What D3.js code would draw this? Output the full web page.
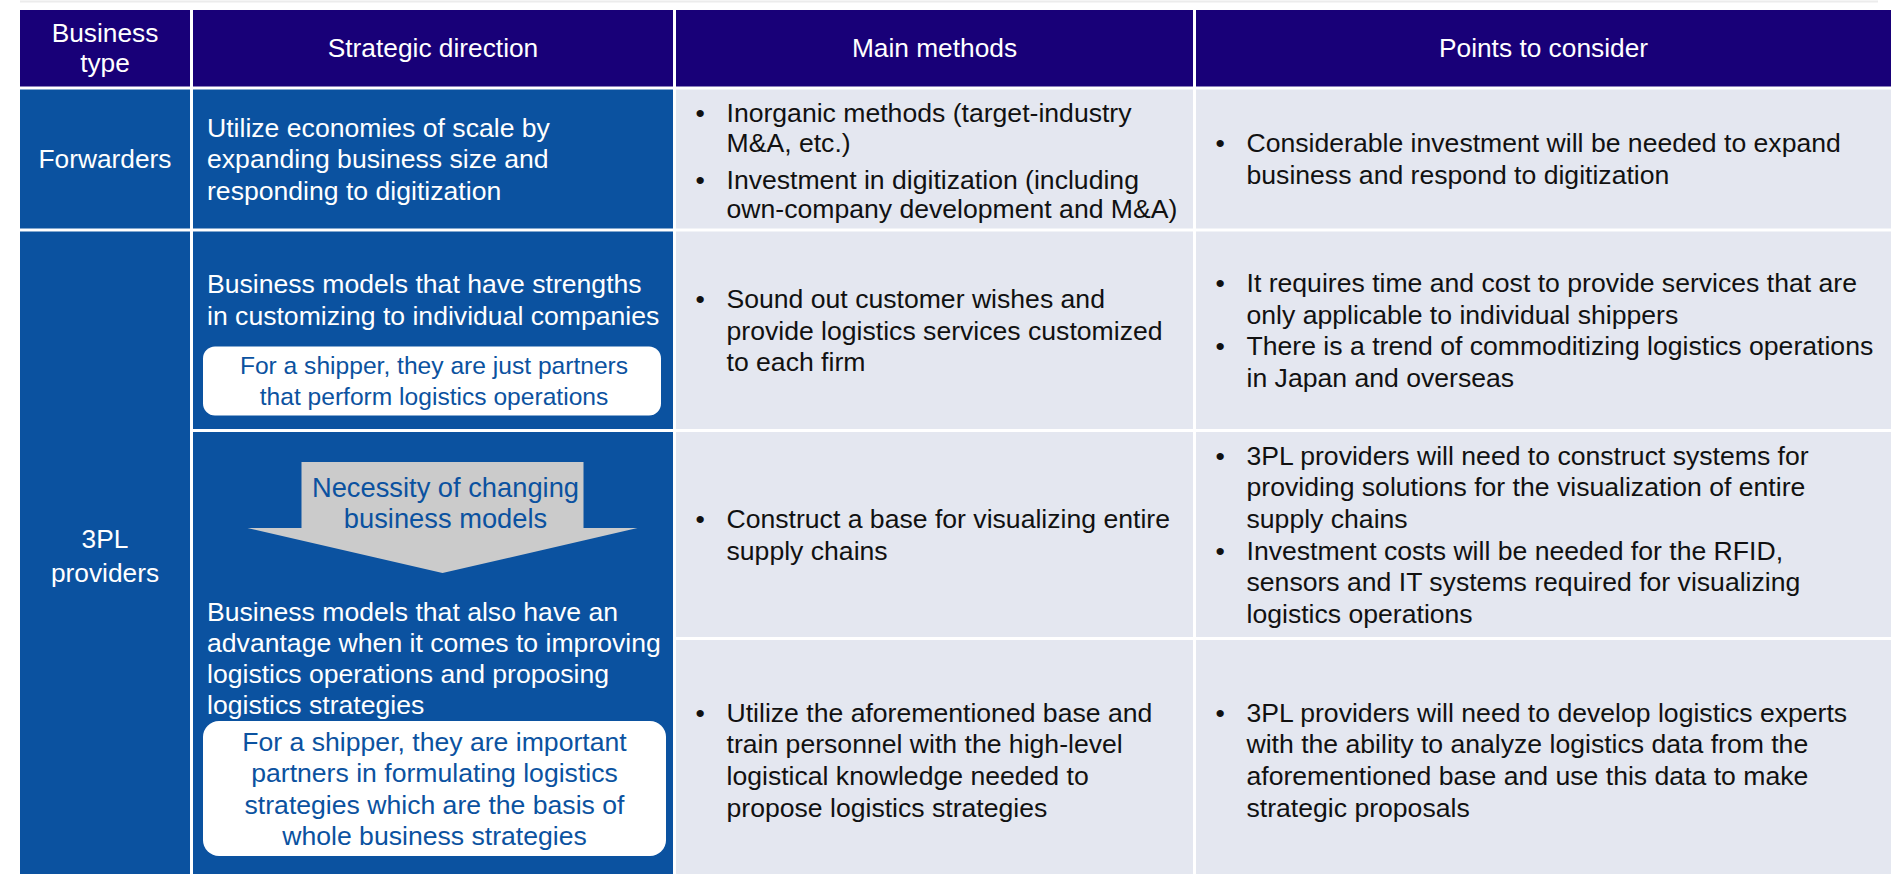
<!DOCTYPE html>
<html><head><meta charset="utf-8">
<script src="https://cdn.jsdelivr.net/npm/d3@7"></script>
<style>html,body{margin:0;padding:0;background:#fff;overflow:hidden}</style>
</head><body><svg id="chart" width="1895" height="874"></svg>
<script>
// ---------------- data ----------------
const headers = [["Business", "type"], ["Strategic direction"], ["Main methods"], ["Points to consider"]];
const businessTypes = [["Forwarders"], ["3PL", "providers"]];
const strategyForwarders = ["Utilize economies of scale by", "expanding business size and", "responding to digitization"];
const strategyCustomizing = ["Business models that have strengths", "in customizing to individual companies"];
const noteCustomizing = ["For a shipper, they are just partners", "that perform logistics operations"];
const arrowLabel = ["Necessity of changing", "business models"];
const strategyAdvantage = ["Business models that also have an", "advantage when it comes to improving", "logistics operations and proposing", "logistics strategies"];
const noteAdvantage = ["For a shipper, they are important", "partners in formulating logistics", "strategies which are the basis of", "whole business strategies"];
const mainMethods = [
  [["Inorganic methods (target-industry", "M&A, etc.)"], ["Investment in digitization (including", "own-company development and M&A)"]],
  [["Sound out customer wishes and", "provide logistics services customized", "to each firm"]],
  [["Construct a base for visualizing entire", "supply chains"]],
  [["Utilize the aforementioned base and", "train personnel with the high-level", "logistical knowledge needed to", "propose logistics strategies"]]
];
const pointsToConsider = [
  [["Considerable investment will be needed to expand", "business and respond to digitization"]],
  [["It requires time and cost to provide services that are", "only applicable to individual shippers"], ["There is a trend of commoditizing logistics operations", "in Japan and overseas"]],
  [["3PL providers will need to construct systems for", "providing solutions for the visualization of entire", "supply chains"], ["Investment costs will be needed for the RFID,", "sensors and IT systems required for visualizing", "logistics operations"]],
  [["3PL providers will need to develop logistics experts", "with the ability to analyze logistics data from the", "aforementioned base and use this data to make", "strategic proposals"]]
];

// ---------------- layout / style ----------------
const colEdges = [20, 191.5, 674.5, 1194.5, 1891];
const rowEdges = [10, 88, 230, 430.5, 638.5, 880];
const GAP = 3, FS = 26.6, LH = 31.7;
const FONT = "'Liberation Sans', Arial, sans-serif";
const C = { head: "#180078", blue: "#0B52A0", light: "#E4E7F0", arrow: "#CBCBCB", white: "#FFFFFF", ink: "#111111" };
// per-cell spacing tweaks (main methods, first row: tighter lines with paragraph gap)
const methodSpacing = [{ lh: 29.5, gap: 7.5, shift: 2 }, null, null, null];

const x = d3.scaleLinear().domain(d3.range(colEdges.length)).range(colEdges);
const y = d3.scaleLinear().domain(d3.range(rowEdges.length)).range(rowEdges);
const nC = colEdges.length - 1, nR = rowEdges.length - 1;

const svg = d3.select("#chart").style("font-family", FONT);
svg.append("rect").attr("width", 1895).attr("height", 874).attr("fill", "#fff");
svg.append("line").attr("x1", 20).attr("x2", 1878).attr("y1", 1.5).attr("y2", 1.5)
  .attr("stroke", "#ececec").attr("stroke-width", 2);

function box(c0, c1, r0, r1) {
  const x0 = x(c0) + (c0 > 0 ? GAP / 2 : 0), x1 = x(c1) - (c1 < nC ? GAP / 2 : 0);
  const y0 = y(r0) + (r0 > 0 ? GAP / 2 : 0), y1 = y(r1) - (r1 < nR ? GAP / 2 : 0);
  return { x0, x1, y0, y1, cx: (x0 + x1) / 2, cy: (y0 + y1) / 2 };
}
function cell(b, fill) {
  svg.append("rect").attr("x", b.x0).attr("y", b.y0).attr("width", b.x1 - b.x0).attr("height", b.y1 - b.y0).attr("fill", fill);
}
function lines(arr, xPos, cy, anchor, color, lh = LH, fs = FS) {
  const g = svg.append("g").attr("fill", color).attr("font-size", fs).attr("text-anchor", anchor);
  g.selectAll("text").data(arr).join("text")
    .attr("x", xPos)
    .attr("y", (d, i) => cy + (i - (arr.length - 1) / 2) * lh)
    .attr("dy", "0.35em")
    .text(d => d);
}
function bullets(paras, b, color, sp) {
  const lh = sp ? sp.lh : LH, gap = sp ? sp.gap : 0, shift = sp ? sp.shift : 0;
  const flat = [];
  let off = 0;
  paras.forEach((p, pi) => {
    if (pi > 0) off += gap;
    p.forEach((l, i) => { flat.push({ l, bullet: i === 0, pos: off }); off += lh; });
  });
  const total = off - lh;
  flat.forEach(d => d.yy = b.cy - total / 2 + d.pos + shift);
  const g = svg.append("g").attr("fill", color).attr("font-size", FS);
  g.selectAll("text.t").data(flat).join("text").attr("class", "t")
    .attr("x", b.x0 + 50.5).attr("y", d => d.yy).attr("dy", "0.35em").text(d => d.l);
  g.selectAll("text.b").data(flat.filter(d => d.bullet)).join("text").attr("class", "b")
    .attr("x", b.x0 + 19.5).attr("y", d => d.yy).attr("dy", "0.35em").text("•");
}

// header
headers.forEach((h, i) => {
  const b = box(i, i + 1, 0, 1);
  cell(b, C.head);
  lines(h, b.cx, b.cy, "middle", C.white, 30, 26.3);
});

// business type column
const btRows = [[1, 2], [2, 5]];
businessTypes.forEach((t, i) => {
  const b = box(0, 1, btRows[i][0], btRows[i][1]);
  cell(b, C.blue);
  lines(t, b.cx, b.cy, "middle", C.white, 34, 26.3);
});

// strategic direction column
const sF = box(1, 2, 1, 2); cell(sF, C.blue);
lines(strategyForwarders, sF.x0 + 14, sF.cy, "start", C.white);

const sC = box(1, 2, 2, 3); cell(sC, C.blue);
lines(strategyCustomizing, sC.x0 + 14, sC.y0 + 68, "start", C.white);
const n1 = { x0: sC.x0 + 10, x1: sC.x0 + 468, y0: sC.y0 + 115, y1: sC.y0 + 184 };
svg.append("rect").attr("x", n1.x0).attr("y", n1.y0).attr("width", n1.x1 - n1.x0).attr("height", n1.y1 - n1.y0)
  .attr("rx", 12).attr("fill", C.white);
lines(noteCustomizing, (n1.x0 + n1.x1) / 2 + 2, (n1.y0 + n1.y1) / 2, "middle", C.blue, 31, 24.6);

const sA = box(1, 2, 3, 5); cell(sA, C.blue);
const ax = sA.x0 + 249.5, at = sA.y0 + 30;
const arrowPts = [[ax - 141, at], [ax + 141, at], [ax + 141, at + 66], [ax + 195, at + 66], [ax, at + 111],
  [ax - 195, at + 66], [ax - 141, at + 66]];
svg.append("path").attr("d", d3.line()(arrowPts) + "Z").attr("fill", C.arrow);
lines(arrowLabel, ax + 3, at + 40.5, "middle", C.blue, 31, 27.3);
lines(strategyAdvantage, sA.x0 + 14, sA.y0 + 226, "start", C.white, 31);
const n2 = { x0: sA.x0 + 10, x1: sA.x0 + 473, y0: sA.y0 + 289, y1: sA.y0 + 424 };
svg.append("rect").attr("x", n2.x0).attr("y", n2.y0).attr("width", n2.x1 - n2.x0).attr("height", n2.y1 - n2.y0)
  .attr("rx", 16).attr("fill", C.white);
lines(noteAdvantage, (n2.x0 + n2.x1) / 2, (n2.y0 + n2.y1) / 2, "middle", C.blue, 31.5, 26.6);

// main methods & points
mainMethods.forEach((m, i) => { const b = box(2, 3, i + 1, i + 2); cell(b, C.light); bullets(m, b, C.ink, methodSpacing[i]); });
pointsToConsider.forEach((p, i) => { const b = box(3, 4, i + 1, i + 2); cell(b, C.light); bullets(p, b, C.ink, null); });
</script></body></html>
